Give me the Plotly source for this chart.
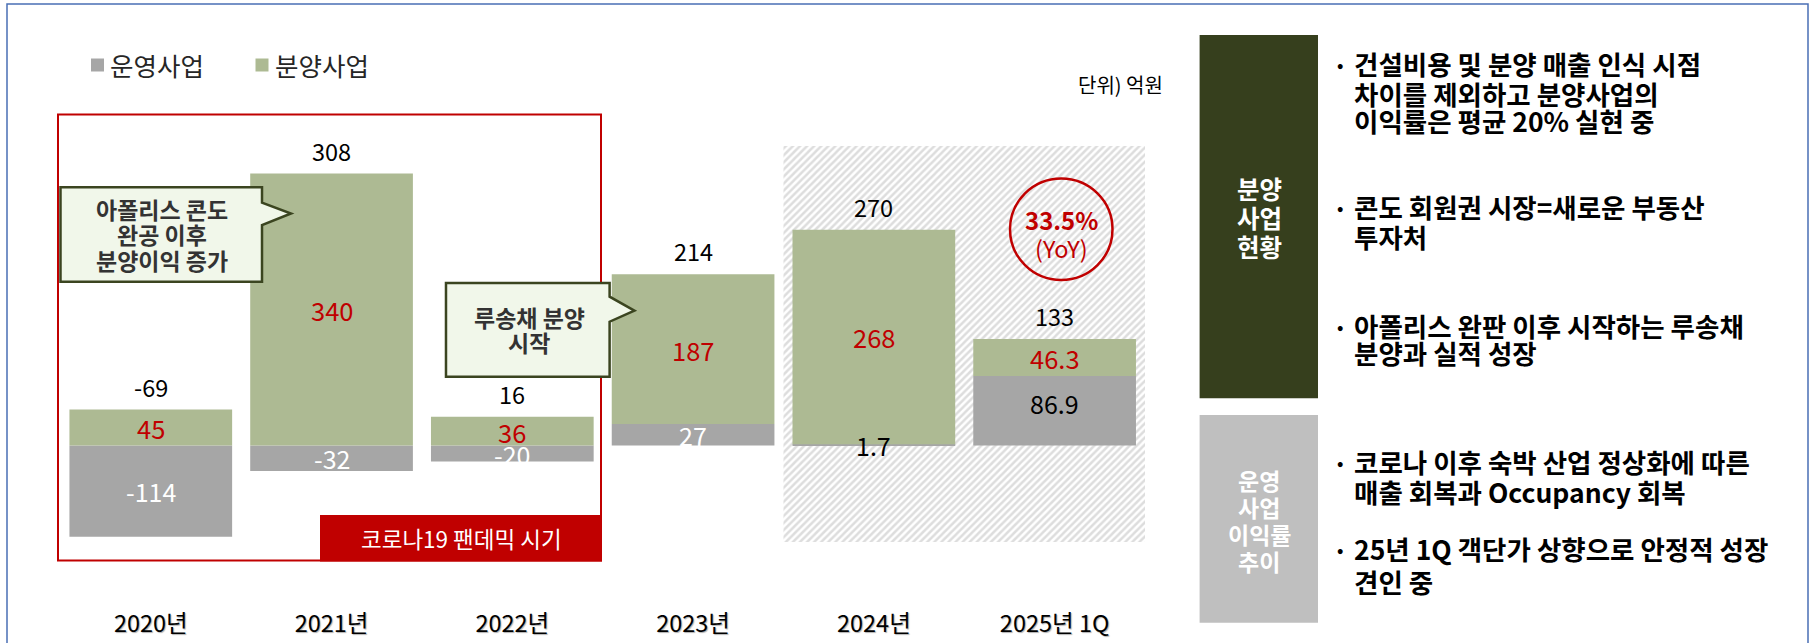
import plotly.graph_objects as go

# ---------------- data ----------------
categories = ["2020년", "2021년", "2022년", "2023년", "2024년", "2025년 1Q"]
op_values = [-114, -32, -20, 27, 1.7, 86.9]          # 운영사업
sale_values = [45, 340, 36, 187, 268, 46.3]          # 분양사업
total_labels = ["-69", "308", "16", "214", "270", "133"]
series_names = ["운영사업", "분양사업"]

callout_1 = ["아폴리스 콘도", "완공 이후", "분양이익 증가"]
callout_2 = ["루송채 분양", "시작"]
pandemic_label = "코로나19 팬데믹 시기"
yoy_value = "33.5%"
yoy_note = "(YoY)"
unit_label = "단위) 억원"

panel_1_title = ["분양", "사업", "현황"]
panel_1_bullets = [
    ["건설비용 및 분양 매출 인식 시점", "차이를 제외하고 분양사업의", "이익률은 평균 20% 실현 중"],
    ["콘도 회원권 시장=새로운 부동산", "투자처"],
    ["아폴리스 완판 이후 시작하는 루송채", "분양과 실적 성장"],
]
panel_2_title = ["운영", "사업", "이익률", "추이"]
panel_2_bullets = [
    ["코로나 이후 숙박 산업 정상화에 따른", "매출 회복과 Occupancy 회복"],
    ["25년 1Q 객단가 상향으로 안정적 성장", "견인 중"],
]

# ---------------- layout constants ----------------
W, H = 1820, 643
PLOT_L, PLOT_R = 60.4, 1145
PLOT_T, PLOT_B = 30, 605
ZERO_PX, PPU = 445.5, 0.8
FONT = "Noto Sans CJK KR"

GRAY = "#A6A6A6"
GREEN = "#ADBA93"
RED = "#C00000"
DARK = "#363F1D"
BOX_GRAY = "#BFBFBF"
CALL_FILL = "#F1F7EA"
CALL_LINE = "#3B4520"


def fx(p):
    return p / W


def fy(p):
    return 1 - p / H


def val_at(p):
    return (ZERO_PX - p) / PPU


y_max = val_at(PLOT_T)
y_min = val_at(PLOT_B)
xs = list(range(len(categories)))

fig = go.Figure()

# hatched background behind 2024 / 2025 1Q
hatch_bottom = val_at(542)
hatch_top = val_at(146)
fig.add_trace(go.Bar(
    x=[3.5], y=[hatch_top - hatch_bottom], base=[hatch_bottom], width=[2], offset=[0],
    marker=dict(color="white", line=dict(width=0),
                pattern=dict(shape="/", fgcolor="#BBBBBB", bgcolor="white", size=5, solidity=0.5)),
    hoverinfo="skip", showlegend=False,
))

fig.add_trace(go.Bar(
    x=xs, y=op_values, name=series_names[0], width=0.9,
    marker=dict(color=GRAY, line=dict(width=0)), showlegend=False,
))
fig.add_trace(go.Bar(
    x=xs, y=sale_values, name=series_names[1], width=0.9,
    marker=dict(color=GREEN, line=dict(width=0)), showlegend=False,
))

ann = []


def txt(x, y, s, size, color="black", bold=False, xanchor="center"):
    ann.append(dict(
        x=fx(x), y=fy(y), xref="paper", yref="paper", text=(f"<b>{s}</b>" if bold else s),
        showarrow=False, xanchor=xanchor, yanchor="middle",
        font=dict(size=size, color=color, family=FONT),
    ))


# bar value labels
op_label_colors = ["white", "white", "white", "white", "black", "black"]
op_label_shift = [0, 0, 0, 0, 0, 8]
for i, (o, s) in enumerate(zip(op_values, sale_values)):
    ann.append(dict(x=i, y=o / 2, xref="x", yref="y", text=f"{o:g}", showarrow=False,
                    yshift=op_label_shift[i],
                    font=dict(size=25, color=op_label_colors[i], family=FONT)))
    pos_base = max(o, 0)
    ann.append(dict(x=i, y=pos_base + s / 2, xref="x", yref="y", text=f"{s:g}", showarrow=False,
                    font=dict(size=25.5, color=RED, family=FONT)))
    top = max(o, 0) + max(s, 0)
    ann.append(dict(x=i, y=top, xref="x", yref="y", text=total_labels[i], showarrow=False,
                    yanchor="middle", yshift=23,
                    font=dict(size=23.5, color="black", family=FONT)))

shapes = []

# outer frame
shapes.append(dict(type="rect", xref="paper", yref="paper", x0=fx(7), x1=fx(1808), y0=fy(4), y1=fy(660),
                   line=dict(color="#4A6FB5", width=1.5), fillcolor="rgba(0,0,0,0)", layer="above"))

# legend
shapes.append(dict(type="rect", xref="paper", yref="paper", x0=fx(91), x1=fx(104), y0=fy(58.5), y1=fy(71.5),
                   fillcolor=GRAY, line=dict(width=0)))
shapes.append(dict(type="rect", xref="paper", yref="paper", x0=fx(255.5), x1=fx(268.5), y0=fy(58.5), y1=fy(71.5),
                   fillcolor=GREEN, line=dict(width=0)))
txt(108, 65, series_names[0], 25.5, "#262626", xanchor="left")
txt(273, 65, series_names[1], 25.5, "#262626", xanchor="left")
txt(1165, 84, unit_label, 20, "black", xanchor="right")

# pandemic box
shapes.append(dict(type="rect", xref="paper", yref="paper", x0=fx(58), x1=fx(601), y0=fy(114.5), y1=fy(560.5),
                   line=dict(color=RED, width=2), fillcolor="rgba(0,0,0,0)", layer="below"))
shapes.append(dict(type="rect", xref="paper", yref="paper", x0=fx(320), x1=fx(602), y0=fy(515), y1=fy(561.5),
                   line=dict(width=0), fillcolor=RED, layer="above"))
txt(461, 538, pandemic_label, 22.5, "white")


def callout_path(x0, y0, x1, y1, wy0, tipx, tipy, wy1):
    pts = [(x0, y0), (x1, y0), (x1, wy0), (tipx, tipy), (x1, wy1), (x1, y1), (x0, y1)]
    return "M " + " L ".join(f"{fx(a):.5f},{fy(b):.5f}" for a, b in pts) + " Z"


shapes.append(dict(type="path", xref="paper", yref="paper",
                   path=callout_path(60.5, 187.3, 262, 281.7, 202.7, 291, 213.5, 225),
                   fillcolor=CALL_FILL, line=dict(color=CALL_LINE, width=2.5), layer="above"))
for k, line in enumerate(callout_1):
    txt(161.5, 208.5 + k * 25.5, line, 23, "#333333", bold=True)

shapes.append(dict(type="path", xref="paper", yref="paper",
                   path=callout_path(446, 283, 609.6, 376.7, 296.7, 634.4, 310.7, 321.7),
                   fillcolor=CALL_FILL, line=dict(color=CALL_LINE, width=2.5), layer="above"))
for k, line in enumerate(callout_2):
    txt(529, 317 + k * 25, line, 23, "#333333", bold=True)

# YoY circle
shapes.append(dict(type="circle", xref="paper", yref="paper", x0=fx(1010), x1=fx(1112.5), y0=fy(178.5), y1=fy(280),
                   line=dict(color=RED, width=2.5), fillcolor="rgba(0,0,0,0)", layer="above"))
txt(1061, 219.5, yoy_value, 24, RED, bold=True)
txt(1061, 247.5, yoy_note, 23.5, RED)

# right panel boxes
shapes.append(dict(type="rect", xref="paper", yref="paper", x0=fx(1199.6), x1=fx(1318), y0=fy(35), y1=fy(398.3),
                   fillcolor=DARK, line=dict(width=0)))
shapes.append(dict(type="rect", xref="paper", yref="paper", x0=fx(1199.6), x1=fx(1318), y0=fy(415), y1=fy(622.7),
                   fillcolor=BOX_GRAY, line=dict(width=0)))
for k, line in enumerate(panel_1_title):
    txt(1259, 188 + k * 29, line, 24.5, "white", bold=True)
for k, line in enumerate(panel_2_title):
    txt(1259, 479.5 + k * 27, line, 23, "white", bold=True)

bullet_group_y = [[64, 93, 121], [206, 236], [325, 352], [461, 491], [548, 581]]
all_bullets = panel_1_bullets + panel_2_bullets
for g, lines in enumerate(all_bullets):
    ys = bullet_group_y[g]
    txt(1340, ys[0] + 1, "•", 17, "black", bold=True)
    for k, line in enumerate(lines):
        txt(1351.5, ys[k], line, 26.5, "black", bold=True, xanchor="left")

fig.update_layout(
    width=W, height=H,
    margin=dict(l=0, r=0, t=0, b=0),
    paper_bgcolor="white", plot_bgcolor="rgba(0,0,0,0)",
    barmode="relative", bargap=0.1,
    showlegend=False,
    font=dict(family=FONT, color="black"),
    annotations=ann, shapes=shapes,
    xaxis=dict(domain=[fx(PLOT_L), fx(PLOT_R)], range=[-0.5, 5.5], tickvals=xs, ticktext=categories,
               showgrid=False, zeroline=False, showline=False, ticks="", automargin=False,
               ticklabelstandoff=2,
               tickfont=dict(size=23.5, color="black", family=FONT, shadow="1px 1px 1px #b0b0b0"),
               fixedrange=True),
    yaxis=dict(domain=[fy(PLOT_B), fy(PLOT_T)], range=[y_min, y_max], visible=False,
               showgrid=False, zeroline=False, automargin=False, fixedrange=True),
)

fig.write_html(
    "out.html",
    config={"displayModeBar": False},
    post_script="document.body.style.margin='0px';document.body.style.overflow='hidden';",
)
